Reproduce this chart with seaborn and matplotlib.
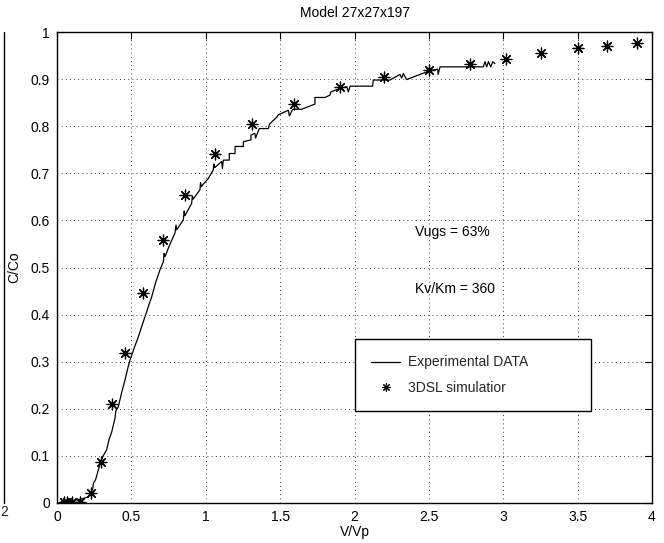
import matplotlib
matplotlib.use("Agg")
import matplotlib.pyplot as plt
from matplotlib.lines import Line2D
import seaborn as sns
import pandas as pd

# Experimental breakthrough curve (C/Co against pore volumes injected)
exp_vp = [0.03, 0.10, 0.16, 0.21, 0.24, 0.245, 0.26, 0.29, 0.31, 0.334,
          0.35, 0.368, 0.39, 0.395, 0.412, 0.435, 0.457, 0.475, 0.491, 0.52,
          0.547, 0.57, 0.592, 0.615, 0.637, 0.665, 0.692, 0.715, 0.72, 0.726,
          0.76, 0.793, 0.80, 0.805, 0.849, 0.855, 0.86, 0.905, 0.91, 0.915,
          0.961, 0.965, 0.97, 1.017, 1.05, 1.055, 1.06, 1.107, 1.112, 1.118,
          1.158, 1.158, 1.197, 1.197, 1.253, 1.253, 1.304, 1.304, 1.33, 1.335,
          1.36, 1.42, 1.43, 1.477, 1.488, 1.555, 1.562, 1.585, 1.645, 1.734,
          1.734, 1.802, 1.835, 1.842, 1.903, 1.948, 1.959, 1.97, 2.122, 2.126,
          2.239, 2.306, 2.317, 2.328, 2.35, 2.507, 2.56, 2.562, 2.575, 2.866,
          2.877, 2.889, 2.90, 2.916, 2.929, 2.944]
exp_cc = [0.003, 0.005, 0.008, 0.013, 0.030, 0.042, 0.050, 0.084, 0.100, 0.113,
          0.135, 0.151, 0.180, 0.195, 0.204, 0.235, 0.261, 0.285, 0.304, 0.330,
          0.353, 0.375, 0.396, 0.418, 0.438, 0.470, 0.495, 0.512, 0.530, 0.523,
          0.550, 0.573, 0.590, 0.580, 0.601, 0.620, 0.610, 0.636, 0.652, 0.645,
          0.665, 0.680, 0.672, 0.689, 0.707, 0.720, 0.712, 0.725, 0.710, 0.728,
          0.728, 0.742, 0.742, 0.757, 0.757, 0.767, 0.771, 0.781, 0.785, 0.775,
          0.795, 0.795, 0.805, 0.819, 0.824, 0.834, 0.822, 0.836, 0.836, 0.847,
          0.861, 0.861, 0.866, 0.873, 0.880, 0.884, 0.873, 0.885, 0.885, 0.898,
          0.898, 0.910, 0.902, 0.912, 0.899, 0.918, 0.921, 0.910, 0.926, 0.926,
          0.937, 0.926, 0.937, 0.926, 0.937, 0.933]

# 3DSL streamline simulation results
sim_vp = [0.05, 0.07, 0.10, 0.155, 0.23, 0.293, 0.367, 0.457, 0.578, 0.713,
          0.86, 1.062, 1.313, 1.595, 1.905, 2.20, 2.503, 2.776, 3.018, 3.254,
          3.50, 3.70, 3.897]
sim_cc = [0.003, 0.003, 0.003, 0.003, 0.022, 0.088, 0.211, 0.318, 0.445, 0.558,
          0.654, 0.742, 0.805, 0.847, 0.883, 0.905, 0.919, 0.931, 0.943, 0.955,
          0.966, 0.970, 0.977]

x_ticks = [0, 0.5, 1, 1.5, 2, 2.5, 3, 3.5, 4]
x_tick_labels = ["0", "0.5", "1", "1.5", "2", "2.5", "3", "3.5", "4"]
y_ticks = [0, 0.1, 0.2, 0.3, 0.4, 0.5, 0.6, 0.7, 0.8, 0.9, 1]
y_tick_labels = ["0", "0.1", "0.2", "0.3", "0.4", "0.5", "0.6", "0.7", "0.8", "0.9", "1"]

exp_df = pd.DataFrame({"V/Vp": exp_vp, "C/Co": exp_cc})
sim_df = pd.DataFrame({"V/Vp": sim_vp, "C/Co": sim_cc})

sns.set_theme(style="white")
plt.rcParams["font.family"] = ["Liberation Sans", "DejaVu Sans"]
plt.rcParams["font.size"] = 10

fig = plt.figure(figsize=(6.64, 5.43), dpi=100)
ax = fig.add_axes([57 / 664, 1 - 503 / 543, 595 / 664, 471 / 543])

sns.lineplot(data=exp_df, x="V/Vp", y="C/Co", sort=False, estimator=None,
             color="black", linewidth=0.9, ax=ax)
sns.scatterplot(data=sim_df, x="V/Vp", y="C/Co", marker=(8, 2, 0), s=60,
                color="black", edgecolor="black", linewidth=0.9, ax=ax, zorder=3)

ax.set_xlim(0, 4)
ax.set_ylim(0, 1)
ax.set_xticks(x_ticks)
ax.set_xticklabels(x_tick_labels)
ax.set_yticks(y_ticks)
ax.set_yticklabels(y_tick_labels)

ax.grid(True, color="black", linestyle=(0, (1, 4)), linewidth=0.6)
ax.tick_params(direction="in", length=5, width=0.8, color="black",
               top=True, right=True, labelsize=10, labelcolor="black", pad=5)
for sp in ax.spines.values():
    sp.set_color("black")
    sp.set_linewidth(1.0)
    sp.set_visible(True)

ax.set_xlabel("V/Vp", fontsize=10, color="black", labelpad=1)
ax.set_ylabel("C/Co", fontsize=10, color="black", labelpad=7)
ax.set_title("Model 27x27x197", fontsize=10, color="black", pad=11)

ax.text(2.41, 0.575, "Vugs = 63%", fontsize=10, color="black", va="center")
ax.text(2.41, 0.454, "Kv/Km = 360", fontsize=10, color="black", va="center")

handles = [
    Line2D([], [], color="black", linewidth=0.9),
    Line2D([], [], color="black", linestyle="", marker=(8, 2, 0),
           markersize=6, markeredgewidth=0.8),
]
leg = ax.legend(handles, ["Experimental DATA", "3DSL simulatior"],
                loc="lower left", bbox_to_anchor=(0.501, 0.195, 0.396, 0.149),
                mode="expand", frameon=True, fancybox=False, fontsize=10,
                handlelength=2.1, handletextpad=0.55, borderpad=1.15,
                labelspacing=0.85, borderaxespad=0)
leg.get_frame().set_edgecolor("black")
leg.get_frame().set_linewidth(1.0)
leg.get_frame().set_alpha(1)

# Edge of the neighbouring panel to the left
fig.add_artist(Line2D([4 / 664, 4 / 664], [1 - 503 / 543, 1 - 32 / 543],
                      color="black", linewidth=1.0))
fig.text(4 / 664, 1 - 512 / 543, "2", fontsize=10, ha="center", va="center")

fig.savefig("out.png", dpi=100)
